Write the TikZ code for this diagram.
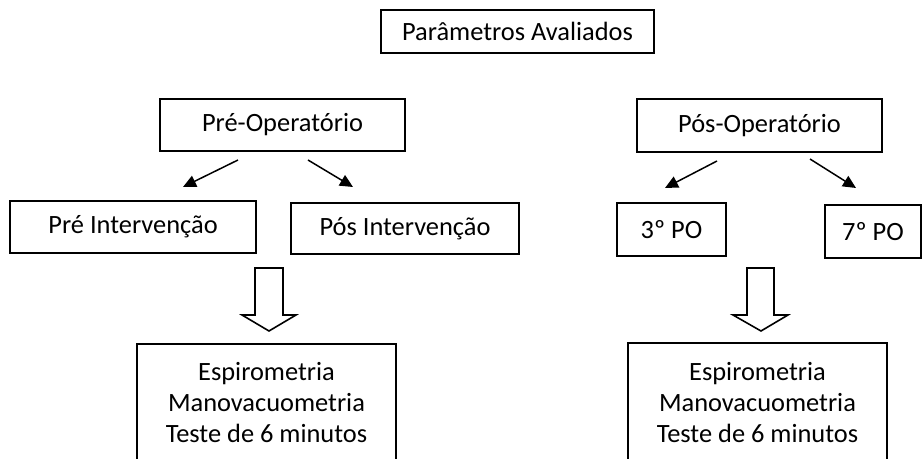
\documentclass[tikz,border=0pt]{standalone}
\usepackage{fontspec}
\setmainfont{Carlito}
\usetikzlibrary{arrows.meta}

\begin{document}
\begin{tikzpicture}[x=0.5pt,y=-0.5pt,
  caixa/.style={draw,line width=1pt,rectangle,inner sep=0pt,align=center,
    font=\fontsize{13.2}{15.5}\selectfont},
  seta/.style={line width=0.75pt,-{Triangle[length=6.5pt,width=6pt]}},
  bloco/.style={draw,line width=0.8pt,fill=white,line join=miter}]
  \useasboundingbox (0,0) rectangle (922,459);
  \clip (0,0) rectangle (922,459);

  % topo
  \node[caixa,minimum width=136.5pt,minimum height=21.5pt] (aval) at (517.5,31.5) {Parâmetros Avaliados};

  % lado esquerdo
  \node[caixa,minimum width=122.5pt,minimum height=26pt] (preop) at (282.5,125) {Pré-Operatório};
  \node[caixa,minimum width=123pt,minimum height=26pt] (preint) at (133,227) {Pré Intervenção};
  \node[caixa,minimum width=114pt,minimum height=25.5pt] (posint) at (405,228.5) {Pós Intervenção};
  \node[caixa,minimum width=129.5pt,minimum height=59pt] (exame1) at (266.5,403) {Espirometria\\Manovacuometria\\Teste de 6 minutos};

  \coordinate (s1) at (238,160);
  \coordinate (e1) at (183,187);
  \coordinate (s2) at (308,160);
  \coordinate (e2) at (353,187);
  \draw[seta] (s1) -- (e1);
  \draw[seta] (s2) -- (e2);

  \draw[bloco] (255,268) -- (283,268) -- (283,315) -- (296,315) -- (269,331)
    -- (242,315) -- (255,315) -- cycle;

  % lado direito
  \node[caixa,minimum width=122.5pt,minimum height=26.5pt] (posop) at (759.5,125.5) {Pós-Operatório};
  \node[caixa,minimum width=54.5pt,minimum height=26.5pt] (po3) at (671.5,229.5) {3º PO};
  \node[caixa,minimum width=48pt,minimum height=26.5pt] (po7) at (873,231.5) {7º PO};
  \node[caixa,minimum width=129.5pt,minimum height=59pt] (exame2) at (757.5,402.5) {Espirometria\\Manovacuometria\\Teste de 6 minutos};

  \coordinate (s3) at (717,161);
  \coordinate (e3) at (665,188);
  \coordinate (s4) at (810,159);
  \coordinate (e4) at (856,188);
  \draw[seta] (s3) -- (e3);
  \draw[seta] (s4) -- (e4);

  \draw[bloco] (747,268) -- (774,268) -- (774,315) -- (788,315) -- (761,331)
    -- (733,315) -- (747,315) -- cycle;
\end{tikzpicture}
\end{document}
